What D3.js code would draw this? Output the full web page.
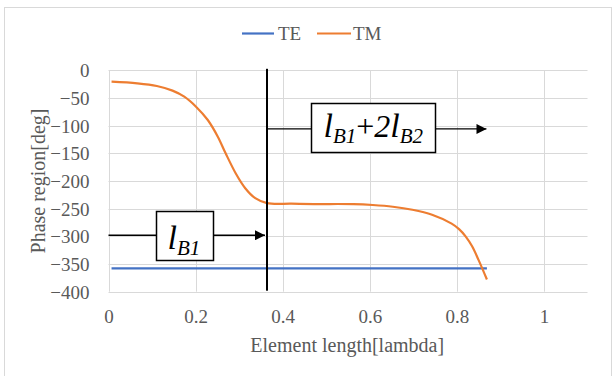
<!DOCTYPE html>
<html>
<head>
<meta charset="utf-8">
<script src="https://cdn.jsdelivr.net/npm/d3@7"></script>
<style>
  html, body { margin: 0; padding: 0; background: #fff; }
  svg { display: block; }
  text { font-family: "Liberation Serif", "Times New Roman", serif; }
</style>
</head>
<body>
<svg id="chart" width="614" height="376"></svg>
<script>
// ---- data ----
const seriesNames = ["TE", "TM"];
const xTicks = [0, 0.2, 0.4, 0.6, 0.8, 1];
const yTicks = [0, -50, -100, -150, -200, -250, -300, -350, -400];
const teX = [0.007, 0.2, 0.4, 0.6, 0.8, 0.869];
const teY = [-358, -358, -358, -358, -358, -358];
const tmX = [0.007, 0.066, 0.111, 0.147, 0.174, 0.201, 0.228, 0.251, 0.269, 0.292, 0.314, 0.337, 0.364, 0.42, 0.472, 0.562, 0.607, 0.653, 0.698, 0.743, 0.788, 0.805, 0.82, 0.835, 0.85, 0.869];
const tmY = [-20.5, -23.5, -28.3, -36.7, -47.6, -65.7, -89.8, -119.9, -150, -186, -213, -231, -240, -241, -241.6, -241.8, -243.4, -246.5, -252, -261, -277, -287, -300, -318, -343, -378];
const boundaryX = 0.364;
const arrow1Y = -298;
const arrow2Y = -106;
const arrow2EndX = 0.868;

const svg = d3.select("#chart");
const plot = { left: 108.5, right: 587.5, top: 70.3, bottom: 291.7 };
const colors = { TE: "#4472c4", TM: "#ed7d31" };
const SERIF = "'Liberation Serif', 'Times New Roman', serif";

const x = d3.scaleLinear().domain([0, 1.1]).range([plot.left, plot.right]);
const y = d3.scaleLinear().domain([-400, 0]).range([plot.bottom, plot.top]);

// outer border
svg.append("rect").attr("x", 4.5).attr("y", 7.5).attr("width", 607).attr("height", 380)
  .attr("fill", "none").attr("stroke", "#d9d9d9").attr("stroke-width", 1);

// arrow marker
svg.append("defs").append("marker")
  .attr("id", "arr").attr("viewBox", "0 0 10 10").attr("refX", 10).attr("refY", 5)
  .attr("markerWidth", 10).attr("markerHeight", 10).attr("markerUnits", "userSpaceOnUse")
  .attr("orient", "auto")
  .append("path").attr("d", "M0,0 L10,5 L0,10 Z").attr("fill", "#000");

// grid
const grid = svg.append("g");
grid.selectAll(".hg").data(yTicks).enter().append("line")
  .attr("x1", plot.left).attr("x2", plot.right)
  .attr("y1", d => Math.round(y(d)) + 0.5).attr("y2", d => Math.round(y(d)) + 0.5)
  .attr("stroke", "#d9d9d9").attr("stroke-width", 1);
grid.selectAll(".vg").data(xTicks).enter().append("line")
  .attr("y1", plot.top).attr("y2", plot.bottom)
  .attr("x1", d => Math.round(x(d)) + 0.5).attr("x2", d => Math.round(x(d)) + 0.5)
  .attr("stroke", "#d9d9d9").attr("stroke-width", 1);

// axes (labels only)
const xAxis = d3.axisBottom(x).tickValues(xTicks).tickSize(0).tickPadding(0)
  .tickFormat(d => d3.format("")(d));
const gx = svg.append("g").attr("transform", `translate(0,${plot.bottom})`).call(xAxis)
  .attr("font-family", SERIF).attr("font-size", 19);
gx.select(".domain").remove();
gx.selectAll("text").attr("dy", null).attr("y", 31).attr("fill", "#595959");

const yAxis = d3.axisLeft(y).tickValues(yTicks).tickSize(0).tickPadding(0);
const gy = svg.append("g").attr("transform", `translate(${plot.left - 19},0)`).call(yAxis)
  .attr("font-family", SERIF).attr("font-size", 19);
gy.select(".domain").remove();
gy.selectAll("text").attr("dy", "0.34em").attr("x", 0).attr("fill", "#595959");

// axis titles
svg.append("text").attr("x", (x(0) + x(1)) / 2 + 21).attr("y", 352)
  .attr("text-anchor", "middle").attr("font-size", "20px").attr("fill", "#595959")
  .text("Element length[lambda]");
svg.append("text").attr("transform", `translate(45,${(plot.top + plot.bottom) / 2}) rotate(-90)`)
  .attr("text-anchor", "middle").attr("font-size", "20px").attr("fill", "#595959")
  .text("Phase region[deg]");

// lines
const lineGen = d3.line().x(d => x(d[0])).y(d => y(d[1])).curve(d3.curveCatmullRom.alpha(0.5));
svg.append("path").datum(teX.map((v, i) => [v, teY[i]]))
  .attr("d", lineGen).attr("fill", "none").attr("stroke", colors.TE).attr("stroke-width", 2.2);
svg.append("path").datum(tmX.map((v, i) => [v, tmY[i]]))
  .attr("d", lineGen).attr("fill", "none").attr("stroke", colors.TM).attr("stroke-width", 2.2);

// boundary vertical line
svg.append("line").attr("x1", x(boundaryX)).attr("x2", x(boundaryX))
  .attr("y1", plot.top - 1.5).attr("y2", plot.bottom - 1).attr("stroke", "#000").attr("stroke-width", 2);

// annotation 1: l_B1
const a1y = y(arrow1Y);
const box1 = { x: 156.5, y: 211.5, w: 57, h: 49 };
svg.append("line").attr("x1", x(0)).attr("x2", box1.x).attr("y1", a1y).attr("y2", a1y)
  .attr("stroke", "#000").attr("stroke-width", 1.3);
svg.append("line").attr("x1", box1.x + box1.w).attr("x2", x(boundaryX) - 2).attr("y1", a1y).attr("y2", a1y)
  .attr("stroke", "#000").attr("stroke-width", 1.3).attr("marker-end", "url(#arr)");
svg.append("rect").attr("x", box1.x).attr("y", box1.y).attr("width", box1.w).attr("height", box1.h)
  .attr("fill", "#fff").attr("stroke", "#000").attr("stroke-width", 1.5);
const t1 = svg.append("text").attr("x", box1.x + 11).attr("y", box1.y + 37)
  .attr("font-family", SERIF).attr("font-style", "italic").attr("fill", "#000");
t1.append("tspan").attr("font-size", "34px").text("l");
t1.append("tspan").attr("font-size", "21px").attr("dy", 6).text("B1");

// annotation 2: l_B1 + 2 l_B2
const a2y = y(arrow2Y);
const box2 = { x: 311.5, y: 103.5, w: 124, h: 49 };
svg.append("line").attr("x1", x(boundaryX)).attr("x2", box2.x).attr("y1", a2y).attr("y2", a2y)
  .attr("stroke", "#000").attr("stroke-width", 1.3);
svg.append("line").attr("x1", box2.x + box2.w).attr("x2", x(arrow2EndX)).attr("y1", a2y).attr("y2", a2y)
  .attr("stroke", "#000").attr("stroke-width", 1.3).attr("marker-end", "url(#arr)");
svg.append("rect").attr("x", box2.x).attr("y", box2.y).attr("width", box2.w).attr("height", box2.h)
  .attr("fill", "#fff").attr("stroke", "#000").attr("stroke-width", 1.5);
const t2 = svg.append("text").attr("x", box2.x + 12).attr("y", box2.y + 33)
  .attr("font-family", SERIF).attr("font-style", "italic").attr("fill", "#000");
t2.append("tspan").attr("font-size", "34px").text("l");
t2.append("tspan").attr("font-size", "21px").attr("dy", 6).text("B1");
t2.append("tspan").attr("font-size", "32px").attr("dy", -6).attr("font-style", "normal").text("+");
t2.append("tspan").attr("font-size", "32px").text("2");
t2.append("tspan").attr("font-size", "34px").text("l");
t2.append("tspan").attr("font-size", "21px").attr("dy", 6).text("B2");

// legend
const legend = svg.append("g");
const legendItems = [
  { name: seriesNames[0], x1: 242, x2: 274, tx: 278 },
  { name: seriesNames[1], x1: 317, x2: 351, tx: 353 }
];
legendItems.forEach(it => {
  legend.append("line").attr("x1", it.x1).attr("x2", it.x2).attr("y1", 33.5).attr("y2", 33.5)
    .attr("stroke", colors[it.name]).attr("stroke-width", 2.2);
  legend.append("text").attr("x", it.tx).attr("y", 33).attr("dy", "0.35em")
    .attr("font-family", SERIF).attr("font-size", "19px").attr("fill", "#595959").text(it.name);
});
</script>
</body>
</html>
